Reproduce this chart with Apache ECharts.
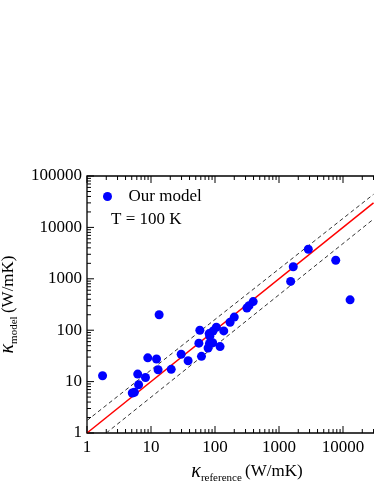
<!DOCTYPE html>
<html>
<head>
<meta charset="utf-8">
<script src="https://cdn.jsdelivr.net/npm/echarts@6/dist/echarts.min.js"></script>
<style>
  html, body { margin: 0; padding: 0; background: #fff; }
  #chart { width: 374px; height: 484px; }
</style>
</head>
<body>
<div id="chart"></div>
<script>
// reference vs model thermal conductivity at 100 K
const kappaRef = [1.75, 13.4, 6.2, 6.4, 5.1, 5.5, 8.2, 8.9, 12.2, 12.9, 20.7, 29.6, 38, 61.5,
  58, 56, 78, 82, 92, 83, 81, 93, 105, 137, 120, 172, 200, 315, 340, 395,
  1520, 1670, 2870, 7700, 12900];
const kappaModel = [13, 200, 14, 8.7, 6.0, 6.2, 12, 29, 27.5, 17, 17.3, 34, 25.5, 31,
  100, 56, 45, 55, 57, 76, 86, 96, 114, 97, 48, 143, 180, 270, 300, 360,
  890, 1720, 3750, 2300, 390];

// y = x guide and the two dashed bounds (end points)
const parityLine = [[1, 1], [30000, 30000]];
const upperBound = [[1, 1.75], [30000, 44000]];
const lowerBound = [[2, 1], [30000, 14500]];

// axis ranges; the x axis runs past the right edge of the picture
const xMin = 1, xMax = 100000;
const yMin = 1, yMax = 100000;

// tick values
const xMajor = [1, 10, 100, 1000, 10000, 100000];
const yMajor = [1, 10, 100, 1000, 10000, 100000];
const minorOf = (majors) => {
  const out = [];
  majors.slice(0, -1).forEach(d => {
    for (let m = 2; m <= 9; m++) out.push(d * m);
  });
  return out;
};
const xMinor = minorOf(xMajor);
const yMinor = minorOf(yMajor);

const font = 'Liberation Serif';
const black = '#000';
const plain = (v) => String(Math.round(v));

const chart = echarts.init(document.getElementById('chart'));

const nameRich = {
  k: { fontFamily: font, fontStyle: 'italic', fontSize: 20, color: black, lineHeight: 24, verticalAlign: 'middle' },
  s: { fontFamily: font, fontSize: 11, color: black, lineHeight: 24, verticalAlign: 'bottom' },
  u: { fontFamily: font, fontSize: 17, color: black, lineHeight: 24, verticalAlign: 'middle' }
};

// inward tick marks, placed through the axes' own scales
const tickSeries = (data, size, offset) => ({
  type: 'scatter',
  data: data,
  symbol: 'rect',
  symbolSize: size,
  symbolOffset: offset,
  itemStyle: { color: black, opacity: 1 },
  silent: true,
  clip: false,
  z: 2
});

const option = {
  animation: false,
  backgroundColor: '#fff',
  title: {
    text: 'T = 100 K',
    left: 106,
    top: 206,
    textStyle: { fontFamily: font, fontSize: 17, fontWeight: 'normal', color: black }
  },
  legend: {
    data: ['Our model'],
    left: 98,
    top: 183,
    icon: 'circle',
    itemWidth: 32,
    itemHeight: 9,
    textStyle: { fontFamily: font, fontSize: 17, color: black }
  },
  grid: {
    left: 87, right: -33, top: 176, bottom: 51,
    outerBoundsMode: 'none', containLabel: false,
    show: true, borderColor: black, borderWidth: 1.3, backgroundColor: 'transparent'
  },
  xAxis: {
    type: 'log',
    logBase: 10,
    min: xMin,
    max: xMax,
    splitLine: { show: false },
    axisLine: { show: false },
    axisTick: { show: false },
    axisLabel: { formatter: plain, fontFamily: font, fontSize: 17, color: black, margin: 6 },
    name: '{k|κ}{s|reference} {u|(W/mK)}',
    nameLocation: 'middle',
    nameGap: 27,
    nameTextStyle: { rich: nameRich }
  },
  yAxis: {
    type: 'log',
    logBase: 10,
    min: yMin,
    max: yMax,
    splitLine: { show: false },
    axisLine: { show: false },
    axisTick: { show: false },
    axisLabel: { formatter: plain, fontFamily: font, fontSize: 17, color: black, margin: 5 },
    name: '{k|κ}{s|model} {u|(W/mK)}',
    nameLocation: 'middle',
    nameGap: 59,
    nameTextStyle: { rich: nameRich }
  },
  series: [
    {
      name: 'parity',
      type: 'line',
      data: parityLine,
      symbol: 'none',
      lineStyle: { color: '#ff0000', width: 1.5 },
      z: 1
    },
    {
      name: 'upper',
      type: 'line',
      data: upperBound,
      symbol: 'none',
      lineStyle: { color: '#333', width: 1, type: [4, 3] },
      z: 1
    },
    {
      name: 'lower',
      type: 'line',
      data: lowerBound,
      symbol: 'none',
      lineStyle: { color: '#333', width: 1, type: [4, 3] },
      z: 1
    },
    tickSeries(xMajor.map(v => [v, yMin]), [1, 7], [0, -3.5]),
    tickSeries(xMinor.map(v => [v, yMin]), [1, 4], [0, -2]),
    tickSeries(xMajor.map(v => [v, yMax]), [1, 7], [0, 3.5]),
    tickSeries(xMinor.map(v => [v, yMax]), [1, 4], [0, 2]),
    tickSeries(yMajor.map(v => [xMin, v]), [7, 1], [3.5, 0]),
    tickSeries(yMinor.map(v => [xMin, v]), [4, 1], [2, 0]),
    {
      name: 'Our model',
      type: 'scatter',
      data: kappaRef.map((x, i) => [x, kappaModel[i]]),
      symbol: 'circle',
      symbolSize: 9,
      itemStyle: { color: '#0000ff', opacity: 1 },
      z: 3
    }
  ]
};

chart.setOption(option);
</script>
</body>
</html>
